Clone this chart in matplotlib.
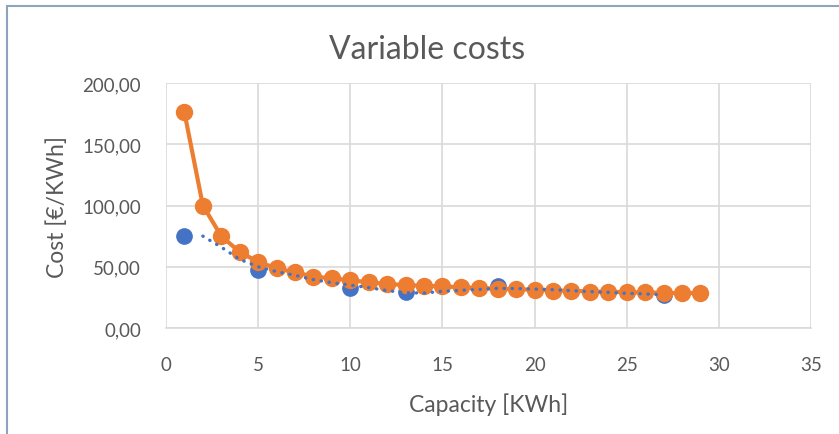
import matplotlib.pyplot as plt
from matplotlib.patches import Rectangle
from matplotlib.ticker import FuncFormatter

# orange series: cost per capacity step
cap = list(range(1, 30))
cost = [176, 100, 75, 62, 54, 48.7, 45.5, 42, 40.5, 39, 37.3, 36, 35, 34.5,
        34, 33.2, 32.6, 32.2, 31.5, 31.3, 30.5, 30.5, 29.7, 29.7, 29.1, 29.1,
        28.6, 28.6, 28.6]

# blue measured points
meas_cap = [1, 5, 10, 13, 18, 27]
meas_cost = [75.4, 47, 33, 29, 34, 27]

# blue dotted trend
trend_cap = list(range(2, 28))
trend_cost = [75, 66, 56, 50, 46, 43, 39.5, 37, 35, 33, 30.5, 28.8, 28.5, 30,
              30.8, 31.5, 32.4, 32.2, 31.8, 31.3, 30.5, 29.7, 29.1, 28.3,
              27.8, 27]

blue = '#4472C4'
orange = '#ED7D31'
grey = '#595959'

plt.rcParams['font.family'] = ['Lato', 'DejaVu Sans']

fig = plt.figure(figsize=(8.39, 4.35), dpi=100)
ax = fig.add_axes([166 / 839, 106 / 435, 645 / 839, 245 / 435])

ax.plot(meas_cap, meas_cost, 'o', color=blue, markersize=11, zorder=3)
ax.plot(cap, cost, '-o', color=orange, linewidth=3, markersize=11.5, zorder=4)
ax.plot(trend_cap, trend_cost, color=blue, linewidth=2.4,
        linestyle=(0, (0.1, 2.3)), dash_capstyle='round', zorder=5)

ax.set_xlim(0, 35)
ax.set_ylim(0, 200)
ax.set_xticks(range(0, 36, 5))
ax.set_yticks(range(0, 201, 50))
ax.yaxis.set_major_formatter(FuncFormatter(lambda v, p: f'{v:.2f}'.replace('.', ',')))

ax.grid(True, color='#d9d9d9', linewidth=1.2)
ax.set_axisbelow(True)
for s in ['top', 'right', 'left']:
    ax.spines[s].set_visible(False)
ax.spines['bottom'].set_color('#d9d9d9')
ax.spines['bottom'].set_linewidth(1.2)
ax.tick_params(length=0, labelsize=13.5, labelcolor=grey)
ax.tick_params(axis='x', pad=20)
ax.tick_params(axis='y', pad=18)

ax.set_xlabel('Capacity [KWh]', fontsize=16.5, color=grey, labelpad=14)
ax.set_ylabel('Cost [€/KWh]', fontsize=16.5, color=grey, labelpad=10)

# title is centred on the whole chart area, not the plot area
fig.text(427 / 839, 1 - 50 / 435, 'Variable costs', fontsize=23, color=grey,
         ha='center', va='center')

# chart area border
fig.patches.append(Rectangle((7 / 839, -0.1), 1.0, (435 - 7) / 435 + 0.1,
                             transform=fig.transFigure, fill=False,
                             edgecolor='#8EA3BD', linewidth=1.5))

fig.savefig('out.png', dpi=100)
